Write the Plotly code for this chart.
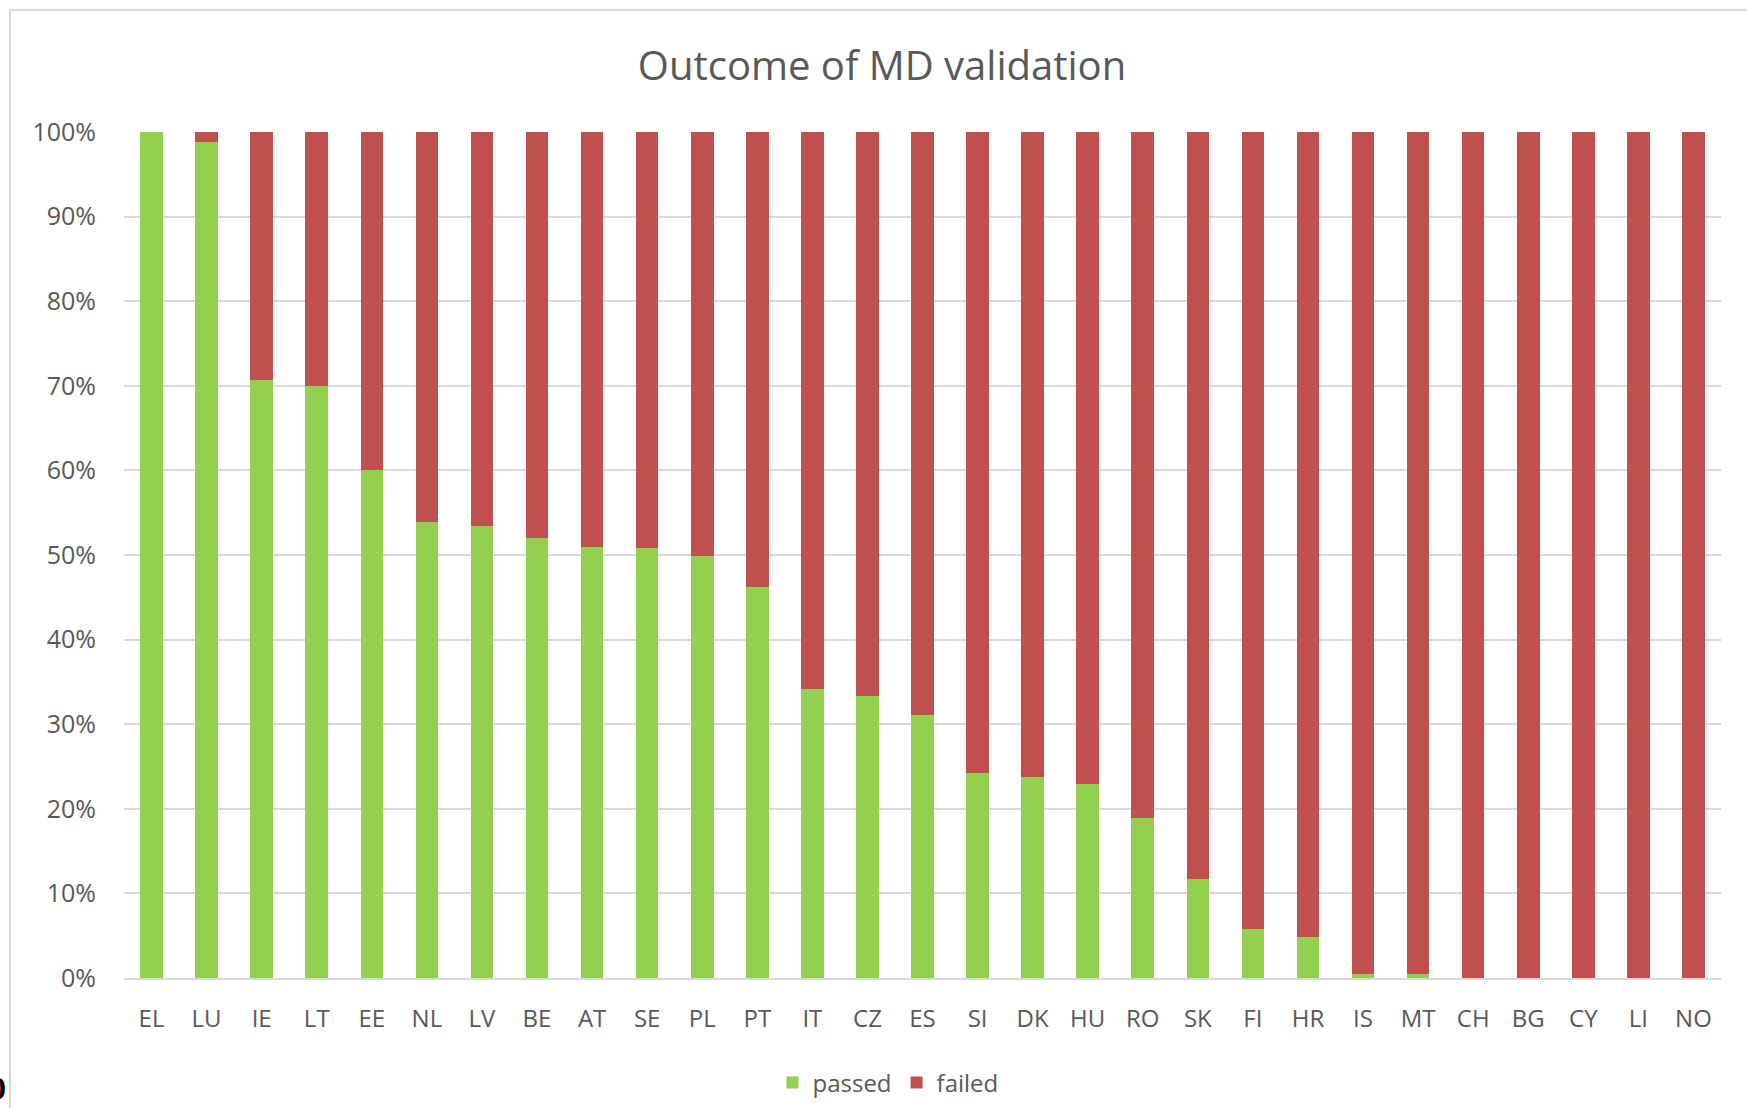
import plotly.graph_objects as go

countries = ["EL", "LU", "IE", "LT", "EE", "NL", "LV", "BE", "AT", "SE", "PL", "PT", "IT", "CZ",
             "ES", "SI", "DK", "HU", "RO", "SK", "FI", "HR", "IS", "MT", "CH", "BG", "CY", "LI", "NO"]
passed = [100.0, 98.8, 70.7, 70.0, 60.0, 53.9, 53.4, 52.0, 51.0, 50.8, 49.9, 46.2, 34.2, 33.3,
          31.1, 24.2, 23.8, 22.9, 18.9, 11.7, 5.8, 4.9, 0.5, 0.5, 0.0, 0.0, 0.0, 0.0, 0.0]
failed = [0.0, 1.2, 29.3, 30.0, 40.0, 46.1, 46.6, 48.0, 49.0, 49.2, 50.1, 53.8, 65.8, 66.7,
          68.9, 75.8, 76.2, 77.1, 81.1, 88.3, 94.2, 95.1, 99.5, 99.5, 100.0, 100.0, 100.0, 100.0, 100.0]
y_ticks = [0, 10, 20, 30, 40, 50, 60, 70, 80, 90, 100]
y_labels = [f"{v}%" for v in y_ticks]

FONT = "Open Sans"
GREY = "#595959"
W, H = 1747, 1108
L, R, T, B = 124, 26, 132, 130
pw = W - L - R
ph = H - T - B

def px_x(px):
    return (px - L) / pw

def px_y(py):
    return (H - B - py) / ph

fig = go.Figure()
fig.add_trace(go.Bar(x=countries, y=passed, name="passed", marker=dict(color="#92D050", line=dict(width=0))))
fig.add_trace(go.Bar(x=countries, y=failed, name="failed", marker=dict(color="#C0504D", line=dict(width=0))))

fig.update_layout(
    width=W, height=H,
    barmode="stack", bargap=0.59,
    plot_bgcolor="white", paper_bgcolor="white",
    margin=dict(l=L, r=R, t=T, b=B, autoexpand=False),
    font=dict(family=FONT, color=GREY, size=24),
    title=dict(text="Outcome of MD validation", x=882 / W, xref="container", xanchor="center",
               y=1 - 66 / H, yref="container", yanchor="middle",
               font=dict(family=FONT, size=40, color=GREY)),
    showlegend=True,
    legend=dict(orientation="h", x=px_x(888), xanchor="center", y=px_y(1083), yanchor="middle",
                font=dict(family=FONT, size=24, color=GREY), itemwidth=30, traceorder="normal"),
    xaxis=dict(showgrid=False, showline=True, linecolor="#D9D9D9", linewidth=2,
               ticks="outside", ticklen=18, tickcolor="rgba(0,0,0,0)",
               tickfont=dict(family=FONT, size=24, color=GREY)),
    yaxis=dict(range=[0, 100], tickvals=y_ticks, ticktext=y_labels, showgrid=True,
               gridcolor="#D9D9D9", gridwidth=2, zeroline=False, showline=False,
               ticks="outside", ticklen=22, tickcolor="rgba(0,0,0,0)",
               tickfont=dict(family=FONT, size=25, color=GREY)),
)

# outer chart frame
fig.add_shape(type="rect", xref="paper", yref="paper",
              x0=px_x(10), x1=px_x(1765), y0=px_y(1125), y1=px_y(10),
              line=dict(color="#D9D9D9", width=2), fillcolor="rgba(0,0,0,0)", layer="below")

# stray character at bottom-left edge
fig.add_annotation(text="<b>0</b>", xref="paper", yref="paper", x=px_x(8), y=px_y(1088),
                   xanchor="right", yanchor="middle", showarrow=False,
                   font=dict(family="Liberation Serif", size=32, color="black"))

fig.write_html("out.html", config={"displayModeBar": False},
               post_script="document.body.style.margin='0';")
